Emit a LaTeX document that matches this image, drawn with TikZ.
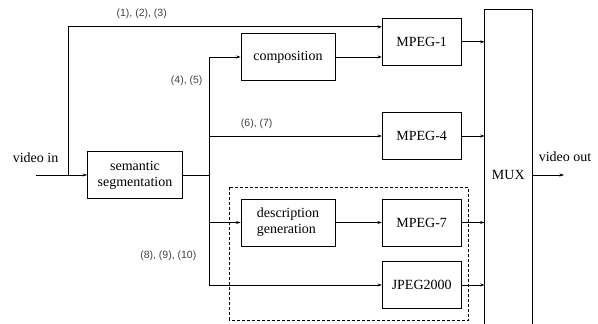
\documentclass[tikz,border=0pt]{standalone}
\usepackage{fontspec}
\setmainfont{Liberation Serif}
\setsansfont{Liberation Sans}
\usetikzlibrary{arrows.meta}

\begin{document}
\begin{tikzpicture}[x=1pt,y=-1pt,line width=0.7pt,
    >={Stealth[length=4.5pt,width=3pt]},
    txt/.style={font=\fontsize{14}{16}\selectfont},
    box/.style={txt,draw,align=center,minimum height=47pt,inner sep=2pt},
    lab/.style={font=\sffamily\fontsize{10.5}{12}\selectfont,text=black!75}]

    \useasboundingbox (0,0) rectangle (598,324);

    %blocs
    \node[box,minimum width=95pt] (seg) at (135,175) {semantic\\segmentation};
    \node[box,minimum width=94pt] (comp) at (288,57) {composition};
    \node[box,minimum width=94pt,align=left] (desc) at (288,222.5) {description\\generation};
    \node[box,minimum width=79pt] (mp1) at (421.7,41.8) {MPEG-1};
    \node[box,minimum width=79pt] (mp4) at (421.7,136) {MPEG-4};
    \node[box,minimum width=79pt] (mp7) at (421.7,222.5) {MPEG-7};
    \node[box,minimum width=79pt] (jp2k) at (421.7,285) {JPEG2000};

    %mux
    \node[txt,minimum width=46.7pt,minimum height=330pt] (mux) at (508.3,175) {MUX};
    \coordinate (bot) at (0,324);
    \draw (mux.west |- bot) |- (mux.north) -| (mux.east |- bot);

    %entree
    \node[txt] (vin) at (35.5,158) {video in};
    \coordinate (in) at (36,175);
    \coordinate (split) at (68.3,175);
    \draw[->] (in) -- (seg);
    \draw[->] (split) |- ([yshift=15pt]mp1.west);
    \node[lab] (l1) at (141.7,14) {(1), (2), (3)};

    %branches
    \coordinate (br) at (209.3,175);
    \draw (seg.east) -- (br);
    \draw[->] (br) |- (comp.west);
    \draw[->] (br) |- (mp4.west);
    \draw[->] (br) |- (desc.west);
    \draw[->] (br) |- (jp2k.west);
    \draw[->] (comp.east) -- (comp.east -| mp1.west);
    \draw[->] (desc) -- (mp7);
    \node[lab] (l4) at (186.7,80.7) {(4), (5)};
    \node[lab] (l6) at (256.7,123.3) {(6), (7)};
    \node[lab] (l8) at (168.3,256) {(8), (9), (10)};

    %sorties
    \foreach \n in {mp1,mp4,mp7,jp2k}{
        \draw[->] (\n) -- (\n -| mux.west);
    }
    \draw[dash pattern=on 3pt off 2pt] (229.3,187.3) rectangle (468.3,320);

    \node[txt] (vout) at (565,157) {video out};
    \coordinate (out) at (564,175);
    \draw[->] (mux.east) -- (out);

\end{tikzpicture}
\end{document}
